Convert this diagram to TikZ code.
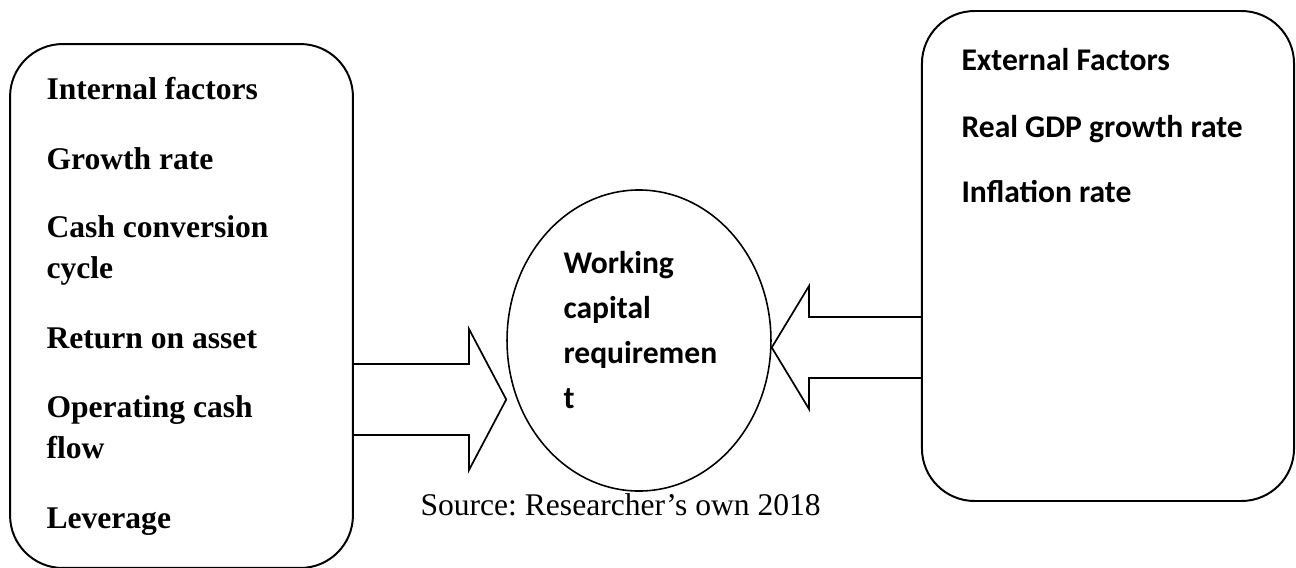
\documentclass[tikz,border=0pt]{standalone}
\usepackage{fontspec}
\setmainfont{Liberation Serif}
\newfontfamily\calibrifont{Carlito}
\usetikzlibrary{shapes.geometric}
\newcommand{\lines}[1]{\begin{tabular}[t]{@{}l@{}}#1\end{tabular}}

\begin{document}
\frenchspacing
\begin{tikzpicture}[
  x=0.38pt, y=-0.38pt,
  factorbox/.style={draw, line width=0.75pt, rounded corners=20pt, inner sep=0pt},
  blockarrow/.style={draw, line width=0.65pt, line join=miter},
  inlabel/.style={anchor=base west, inner sep=0pt,
    font=\fontsize{12}{15.6}\selectfont\bfseries},
  exlabel/.style={anchor=base west, inner sep=0pt,
    font=\fontsize{12}{17.1}\selectfont\calibrifont\bfseries},
]
\useasboundingbox (0,0) rectangle (1296,567);

% === INTERNAL FACTORS (left) ===
\node[factorbox, minimum width=130.3pt, minimum height=199.1pt] (inbox) at (181.5,306) {};
\node[inlabel] (intitle) at (46,99)  {Internal factors};
\node[inlabel] (growth)  at (46,169) {Growth rate};
\node[inlabel] (ccc)     at (46,237) {\lines{Cash conversion\\cycle}};
\node[inlabel] (roa)     at (46,348) {Return on asset};
\node[inlabel] (ocf)     at (46,417) {\lines{Operating cash\\flow}};
\node[inlabel] (lev)     at (46,528) {Leverage};

% === EXTERNAL FACTORS (right) ===
\node[factorbox, minimum width=141.4pt, minimum height=186.2pt] (exbox) at (1108,256) {};
\node[exlabel] (extitle) at (961,70)  {External Factors};
\node[exlabel] (gdp)     at (961,137) {Real GDP growth rate};
\node[exlabel] (infl)    at (961,202) {Inflation rate};

% === WORKING CAPITAL (centre) ===
\node[ellipse, draw, line width=0.6pt, minimum width=100.3pt, minimum height=114.4pt,
  inner sep=0pt] (wcr) at (639,340.5) {};
\node[exlabel] (wcrtext) at (563,273) {\lines{Working\\capital\\requiremen\\t}};

% block arrows into the ellipse
\draw[blockarrow] (inbox.east |- 0,364) -- (469,364) -- (469,329) -- (wcr.west |- 0,399.5)
  -- (469,470) -- (469,435) -- (inbox.east |- 0,435);
\draw[blockarrow] (exbox.west |- 0,317) -- (809,317) -- (809,286) -- (wcr.east |- 0,347.5)
  -- (809,409) -- (809,378) -- (exbox.west |- 0,378);

\node[anchor=base west, inner sep=0pt, font=\fontsize{12}{14}\selectfont] (source) at (420,515)
  {Source: Researcher’s own 2018};
\end{tikzpicture}
\end{document}
